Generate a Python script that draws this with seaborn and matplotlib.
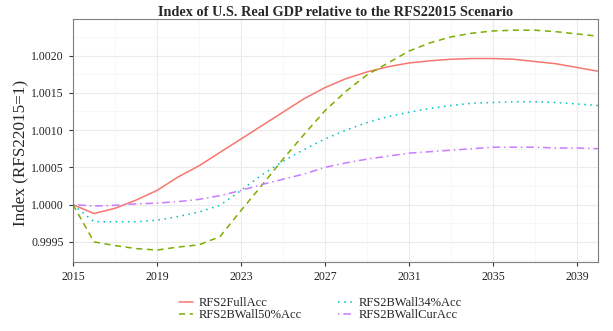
import numpy as np
import pandas as pd
import matplotlib
matplotlib.use('Agg')
import matplotlib.pyplot as plt
import seaborn as sns

years = list(range(2015, 2041))

full_acc = [1.00000, 0.99988, 0.99995, 1.00006, 1.00019, 1.00037, 1.00052, 1.00070,
            1.00088, 1.00106, 1.00124, 1.00142, 1.00157, 1.00169, 1.00178, 1.00185,
            1.00190, 1.00193, 1.00195, 1.00196, 1.00196, 1.00195, 1.00192, 1.00189,
            1.00184, 1.00179]
wall50 = [1.00000, 0.99950, 0.99945, 0.99941, 0.99939, 0.99943, 0.99946, 0.99957,
          0.99992, 1.00026, 1.00061, 1.00094, 1.00126, 1.00152, 1.00174, 1.00190,
          1.00206, 1.00217, 1.00225, 1.00230, 1.00233, 1.00234, 1.00234, 1.00232,
          1.00229, 1.00226]
wall34 = [1.00000, 0.99977, 0.99977, 0.99977, 0.99979, 0.99984, 0.99990, 0.99999,
          1.00019, 1.00040, 1.00058, 1.00074, 1.00088, 1.00100, 1.00110, 1.00118,
          1.00124, 1.00129, 1.00133, 1.00136, 1.00137, 1.00138, 1.00138, 1.00137,
          1.00135, 1.00133]
wall_cur = [1.00000, 0.99998, 0.99999, 1.00001, 1.00002, 1.00004, 1.00007, 1.00012,
            1.00019, 1.00027, 1.00034, 1.00041, 1.00050, 1.00056, 1.00061, 1.00065,
            1.00069, 1.00071, 1.00073, 1.00075, 1.00077, 1.00077, 1.00077, 1.00076,
            1.00076, 1.00075]

series = ['RFS2FullAcc', 'RFS2BWall50%Acc', 'RFS2BWall34%Acc', 'RFS2BWallCurAcc']
values = [full_acc, wall50, wall34, wall_cur]

df = pd.concat([pd.DataFrame({'Year': years, 'Index': v, 'Scenario': s})
                for s, v in zip(series, values)])

palette = {'RFS2FullAcc': '#F8766D', 'RFS2BWall50%Acc': '#7CAE00',
           'RFS2BWall34%Acc': '#00BFC4', 'RFS2BWallCurAcc': '#C77CFF'}
dashes = {'RFS2FullAcc': '', 'RFS2BWall50%Acc': (4, 3),
          'RFS2BWall34%Acc': (1, 3), 'RFS2BWallCurAcc': (1, 2.5, 5, 2.5)}

sns.set_style('white')
plt.rcParams['font.family'] = ['Liberation Serif', 'DejaVu Serif']

fig = plt.figure(figsize=(6.13, 3.31), dpi=100)
ax = fig.add_axes([0.119, 0.2085, 0.8565, 0.734])

sns.lineplot(data=df, x='Year', y='Index', hue='Scenario', style='Scenario',
             palette=palette, dashes=dashes, hue_order=series, style_order=series,
             linewidth=1.1, ax=ax)

ax.set_xlim(2015, 2040)
ax.set_ylim(0.99923, 1.00249)
ax.set_xticks([2015, 2019, 2023, 2027, 2031, 2035, 2039])
ax.set_xticks([2017, 2021, 2025, 2029, 2033, 2037], minor=True)
ax.set_yticks([0.9995, 1.0000, 1.0005, 1.0010, 1.0015, 1.0020])
ax.set_yticks([0.99925, 0.99975, 1.00025, 1.00075, 1.00125, 1.00175, 1.00225], minor=True)
ax.yaxis.set_major_formatter(matplotlib.ticker.FormatStrFormatter('%.4f'))
ax.grid(True, which='major', color='#ebebeb', linewidth=0.8)
ax.grid(True, which='minor', color='#f4f4f4', linewidth=0.5)
ax.set_axisbelow(True)
for sp in ax.spines.values():
    sp.set_color('#7f7f7f')
    sp.set_linewidth(0.8)
ax.tick_params(axis='both', which='major', length=3, width=0.8, color='#333333',
               labelsize=8.5, labelcolor='#222222', bottom=True, left=True)
ax.tick_params(axis='both', which='minor', length=0)

ax.set_xlabel('')
ax.set_ylabel('Index (RFS22015=1)', fontsize=12.3)
ax.yaxis.set_label_coords(-0.084, 0.449)
ax.set_title('Index of U.S. Real GDP relative to the RFS22015 Scenario',
             fontsize=10.3, fontweight='bold', pad=2)

handles, labels = ax.get_legend_handles_labels()
ax.legend(handles, labels, ncol=2, loc='upper center', bbox_to_anchor=(0.471, -0.118),
          frameon=False, fontsize=9, handlelength=1.1, columnspacing=2.9,
          labelspacing=0.0, handletextpad=0.5, borderpad=0)

fig.savefig('out.png', dpi=100)
